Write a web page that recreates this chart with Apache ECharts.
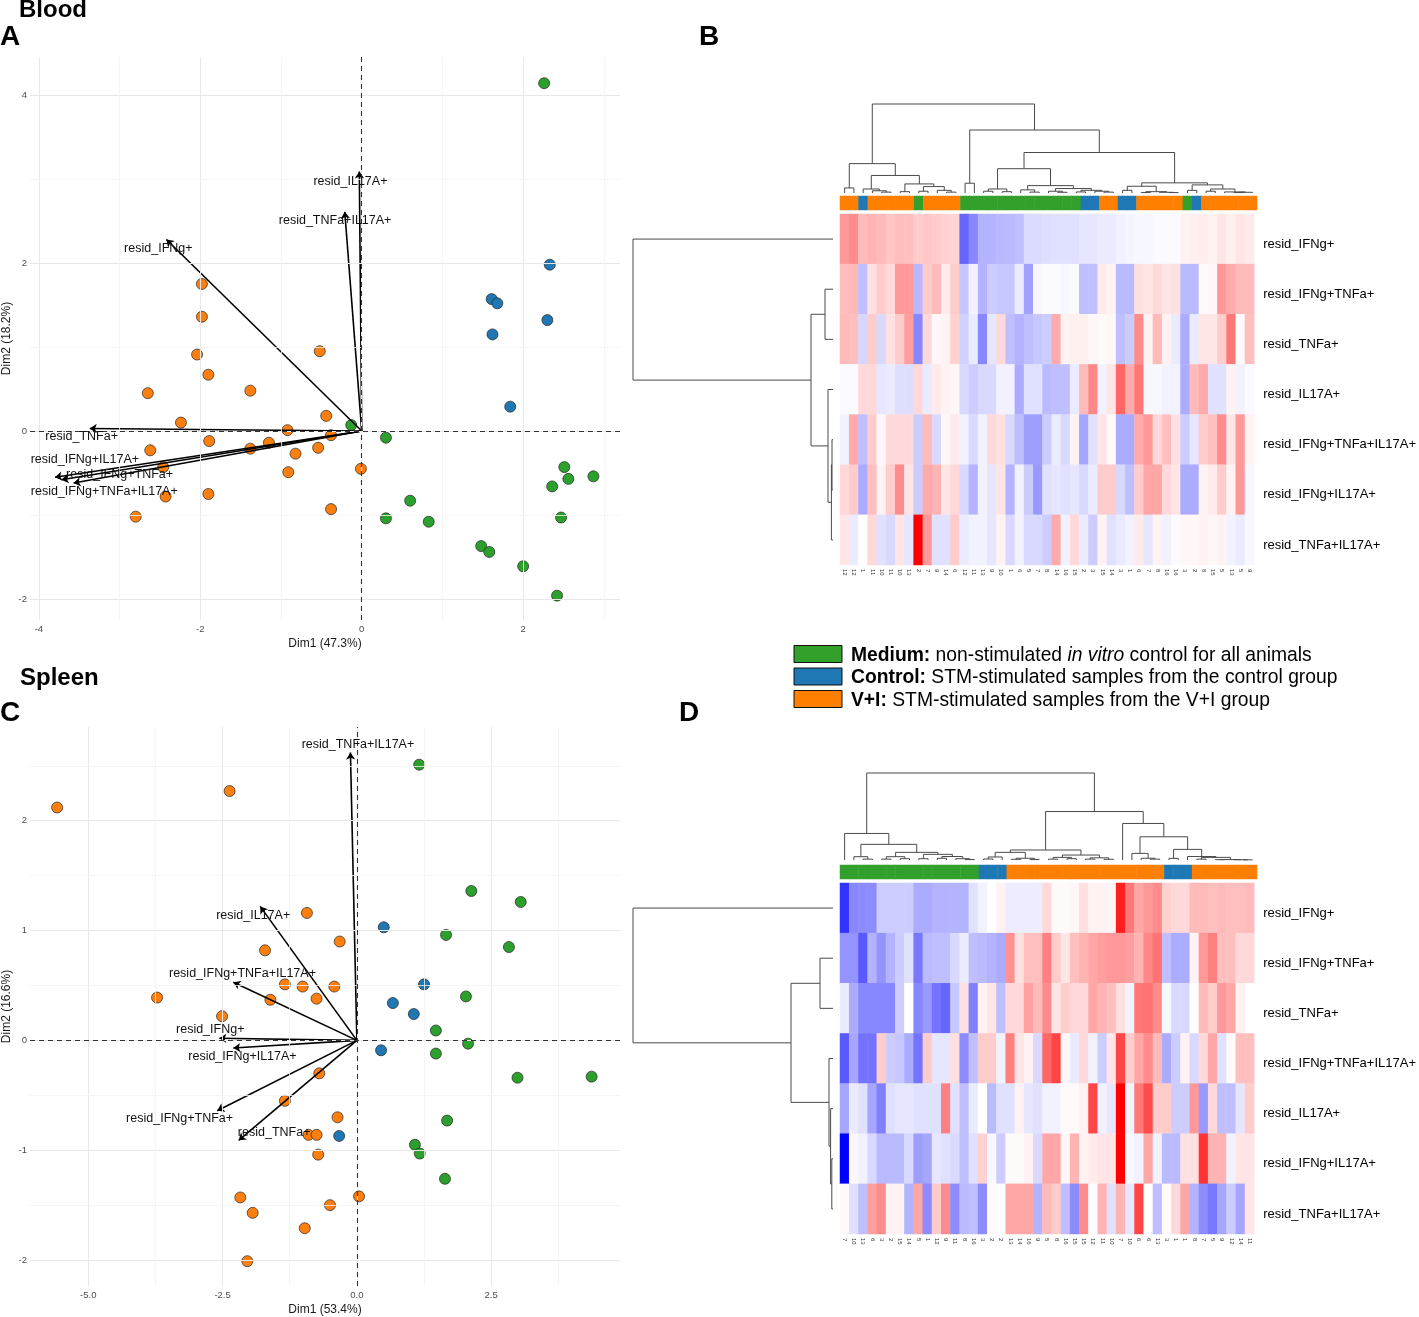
<!DOCTYPE html>
<html><head><meta charset="utf-8">
<script src="https://cdn.jsdelivr.net/npm/echarts@6/dist/echarts.min.js"></script>
<style>html,body{margin:0;padding:0;background:#fff;}#c{width:1419px;height:1317px;}</style>
</head><body><div id="c"></div>
<script>
const FONT = '"Liberation Sans", Arial, Helvetica, sans-serif';
const GROUP_COLORS = {M:'#33a02c', C:'#1f78b4', V:'#ff7f00'};
const POINT_COLORS = {M:'#2ca02c', C:'#1f77b4', V:'#ff7f0e'};
const GROUP_CODE = {M:0, C:1, V:2};

// ---------- Panel A (Blood PCA) ----------
const bloodMedium = [[2.26,4.14],[-0.13,0.07],[0.30,-0.08],[2.51,-0.43],[2.56,-0.57],[2.87,-0.54],[2.36,-0.66],[0.60,-0.83],[0.30,-1.04],[0.83,-1.08],[2.47,-1.03],[1.48,-1.37],[1.58,-1.44],[2.00,-1.61],[2.42,-1.96]];
const bloodControl = [[2.33,1.98],[1.61,1.57],[1.68,1.52],[2.30,1.32],[1.62,1.15],[1.84,0.29]];
const bloodVI = [[-1.98,1.75],[-1.98,1.36],[-2.04,0.91],[-1.90,0.67],[-0.52,0.95],[-2.65,0.45],[-1.38,0.48],[-0.44,0.18],[-2.24,0.10],[-0.92,0.01],[-0.38,-0.05],[-1.89,-0.12],[-1.15,-0.14],[-1.38,-0.21],[-2.62,-0.23],[-0.82,-0.27],[-0.54,-0.20],[-2.46,-0.43],[-0.91,-0.49],[-0.01,-0.45],[-2.43,-0.78],[-1.90,-0.75],[-0.38,-0.93],[-2.80,-1.02]];
const bloodArrowNames = ['resid_IL17A+','resid_TNFa+IL17A+','resid_IFNg+','resid_TNFa+','resid_IFNg+IL17A+','resid_IFNg+TNFa+','resid_IFNg+TNFa+IL17A+'];
const bloodArrowTips = [[-0.03,3.09],[-0.21,2.61],[-2.42,2.28],[-3.37,0.03],[-3.80,-0.55],[-3.57,-0.62],[-3.72,-0.58]];
const bloodLabelPos = [[-0.14,2.97],[-0.33,2.50],[-2.52,2.17],[-3.47,-0.07],[-3.43,-0.34],[-3.00,-0.52],[-3.19,-0.72]];
const bloodXTicks = [-4,-2,0,2], bloodYTicks = [-2,0,2,4];
const bloodXMinor = [-3,-1,1,3], bloodYMinor = [-1,1,3];

// ---------- Panel C (Spleen PCA) ----------
const spleenMedium = [[1.16,2.51],[2.13,1.36],[3.05,1.26],[1.66,0.96],[2.83,0.85],[2.03,0.40],[1.47,0.09],[2.07,-0.03],[1.47,-0.12],[2.99,-0.34],[4.37,-0.33],[1.68,-0.73],[1.08,-0.95],[1.17,-1.03],[1.64,-1.26]];
const spleenControl = [[0.50,1.03],[1.25,0.51],[0.67,0.34],[1.06,0.24],[0.45,-0.09],[-0.33,-0.87]];
const spleenVI = [[-5.58,2.12],[-2.37,2.27],[-0.93,1.16],[-0.32,0.90],[-1.71,0.82],[-3.72,0.39],[-1.34,0.51],[-1.01,0.49],[-0.42,0.49],[-1.61,0.37],[-0.75,0.38],[-2.51,0.22],[-0.70,-0.30],[-1.34,-0.55],[-0.36,-0.70],[-0.90,-0.86],[-0.75,-0.86],[-0.72,-1.04],[-2.17,-1.43],[-1.94,-1.57],[0.04,-1.42],[-0.50,-1.50],[-0.97,-1.71],[-2.04,-2.01]];
const spleenArrowNames = ['resid_TNFa+IL17A+','resid_IL17A+','resid_IFNg+TNFa+IL17A+','resid_IFNg+','resid_IFNg+IL17A+','resid_IFNg+TNFa+','resid_TNFa+'];
const spleenArrowTips = [[-0.12,2.62],[-1.80,1.22],[-2.30,0.53],[-2.56,0.02],[-2.30,-0.07],[-2.60,-0.64],[-2.20,-0.91]];
const spleenLabelPos = [[0.02,2.69],[-1.93,1.14],[-2.13,0.61],[-2.73,0.10],[-2.13,-0.15],[-3.30,-0.71],[-1.54,-0.84]];
const spleenXTicks = [-5,-2.5,0,2.5], spleenYTicks = [-2,-1,0,1,2];
const spleenXMinor = [-3.75,-1.25,1.25,3.75], spleenYMinor = [-1.5,-0.5,0.5,1.5,2.5];

// ---------- Heatmaps ----------
const rowNamesB = ['resid_IFNg+','resid_IFNg+TNFa+','resid_TNFa+','resid_IL17A+','resid_IFNg+TNFa+IL17A+','resid_IFNg+IL17A+','resid_TNFa+IL17A+'];
const rowNamesD = ['resid_IFNg+','resid_IFNg+TNFa+','resid_TNFa+','resid_IFNg+TNFa+IL17A+','resid_IL17A+','resid_IFNg+IL17A+','resid_TNFa+IL17A+'];
const colLabelsB = ['12','12','1','11','10','11','10','13','2','7','9','14','6','12','11','13','9','10','1','6','5','7','8','14','16','15','2','3','15','14','3','1','6','7','8','16','16','3','2','8','15','5','13','5','9'];
const colLabelsD = ['7','10','13','6','3','2','15','14','5','1','12','9','11','8','16','3','2','2','13','14','16','9','5','8','16','15','15','12','11','10','7','10','6','6','13','3','1','1','8','7','5','9','12','14','11'];
const groupsB = ['V','V','C','V','V','V','V','V','M','V','V','V','V','M','M','M','M','M','M','M','M','M','M','M','M','M','C','C','V','V','C','C','V','V','V','V','V','M','C','V','V','V','V','V','V'];
const groupsD = ['M','M','M','M','M','M','M','M','M','M','M','M','M','M','M','C','C','C','V','V','V','V','V','V','V','V','V','V','V','V','V','V','V','V','V','C','C','C','V','V','V','V','V','V','V'];

const heatB = [
 [0.40,0.45,0.27,0.30,0.27,0.23,0.26,0.25,0.20,0.22,0.20,0.18,0.17,-0.60,-0.47,-0.30,-0.30,-0.28,-0.27,-0.25,-0.14,-0.14,-0.13,-0.12,-0.12,-0.12,-0.10,-0.10,-0.08,-0.08,-0.05,-0.04,-0.03,-0.03,-0.02,-0.02,-0.02,0.05,0.06,0.07,0.05,0.10,0.06,0.10,0.08],
 [0.25,0.28,-0.25,0.12,0.20,0.15,0.40,0.40,-0.28,0.20,0.27,0.08,0.20,-0.22,-0.05,-0.30,-0.20,-0.22,-0.22,-0.08,-0.37,-0.03,-0.02,-0.02,-0.03,-0.02,-0.25,-0.25,0.08,0.05,-0.27,-0.27,0.12,0.10,0.15,0.10,0.12,-0.27,-0.27,0.02,0.03,0.40,0.33,0.27,0.27],
 [0.27,0.25,-0.16,0.20,-0.15,0.12,0.20,0.38,-0.47,0.15,0.03,0.05,0.18,-0.18,-0.08,-0.47,-0.10,0.15,-0.25,-0.30,-0.25,-0.22,-0.20,0.33,0.05,0.06,0.06,0.03,0.02,0.03,-0.25,-0.20,0.45,0.05,0.27,0.05,-0.08,-0.33,-0.08,0.10,0.10,0.20,0.53,0.02,0.25],
 [-0.02,-0.02,0.15,0.15,-0.10,-0.08,-0.13,-0.13,0.15,-0.08,0.08,0.05,0.03,-0.15,-0.20,-0.15,-0.15,-0.05,-0.05,-0.33,-0.12,-0.12,-0.27,-0.25,-0.25,-0.08,0.27,0.47,-0.05,0.10,0.60,0.33,0.53,-0.03,-0.03,-0.05,-0.05,-0.33,0.27,0.33,-0.12,-0.12,0.05,-0.05,-0.02],
 [-0.05,0.33,-0.25,0.20,0.03,0.15,0.15,0.15,-0.20,0.27,-0.15,0.03,0.08,-0.05,-0.15,-0.05,0.15,0.12,-0.15,-0.25,-0.38,-0.38,-0.20,-0.08,-0.15,0.05,-0.35,-0.12,0.10,0.02,-0.33,-0.33,0.33,0.40,0.15,0.25,0.12,-0.20,-0.10,0.20,0.25,0.45,0.10,0.40,0.05],
 [0.15,0.20,-0.33,0.25,0.05,0.20,0.45,0.10,-0.20,0.33,0.30,0.10,0.15,-0.15,-0.30,-0.05,-0.10,0.10,-0.30,-0.05,-0.20,-0.40,-0.12,-0.10,-0.12,-0.10,-0.15,-0.08,0.20,0.20,-0.15,-0.25,0.20,0.35,0.35,0.15,0.10,-0.33,-0.33,0.05,0.08,0.20,0.05,0.40,-0.03],
 [0.10,-0.08,0.00,0.15,-0.12,-0.15,0.10,-0.10,1.00,0.40,-0.12,-0.12,0.20,-0.08,-0.05,-0.05,-0.10,0.05,-0.15,-0.05,-0.15,-0.15,-0.20,0.33,-0.05,0.15,-0.08,-0.20,0.05,-0.12,-0.08,-0.05,0.08,-0.10,0.05,-0.05,-0.02,0.03,0.03,0.05,0.03,0.05,-0.05,-0.08,-0.03]
];
const heatD = [
 [-0.80,-0.47,-0.45,-0.45,-0.20,-0.20,-0.20,-0.20,-0.33,-0.33,-0.30,-0.30,-0.30,-0.30,-0.12,-0.05,0.00,0.05,-0.07,-0.07,-0.07,-0.07,0.15,0.02,0.02,0.03,0.12,0.05,0.05,0.04,0.88,0.53,0.35,0.40,0.45,0.18,0.15,0.15,0.27,0.27,0.25,0.27,0.25,0.25,0.27],
 [-0.42,-0.42,-0.65,-0.30,-0.42,-0.30,-0.20,-0.12,-0.53,-0.27,-0.25,-0.25,-0.15,-0.08,-0.25,-0.27,-0.30,-0.33,0.43,0.12,0.25,0.25,0.50,0.20,0.10,0.25,0.30,0.35,0.38,0.40,0.40,0.38,0.30,0.47,0.55,-0.25,-0.33,-0.33,0.05,0.40,0.50,0.25,0.25,0.15,0.15],
 [-0.08,-0.33,-0.47,-0.47,-0.47,-0.47,-0.20,0.00,-0.47,-0.40,-0.55,-0.60,-0.22,0.12,-0.50,0.05,0.10,-0.25,0.15,0.15,0.37,0.27,0.45,0.10,0.20,0.15,0.15,0.35,0.30,0.25,0.12,-0.05,0.53,0.55,0.45,-0.03,-0.15,-0.15,0.00,0.27,0.20,0.40,0.35,0.05,0.00],
 [-0.65,-0.35,-0.55,-0.55,0.20,-0.20,-0.22,-0.33,-0.55,0.20,-0.10,-0.10,0.12,-0.45,-0.25,0.20,0.20,-0.05,0.50,0.10,0.05,-0.15,0.60,0.73,0.03,-0.08,0.15,-0.05,-0.20,0.10,0.73,0.20,0.35,0.45,0.27,-0.33,-0.20,0.05,-0.15,0.15,0.35,-0.12,0.02,0.25,0.25],
 [-0.35,-0.08,-0.12,-0.35,-0.50,-0.12,-0.10,-0.10,-0.12,-0.12,-0.12,0.50,-0.12,-0.25,-0.08,0.00,-0.27,-0.12,-0.12,0.05,-0.10,-0.12,-0.05,-0.05,0.02,0.02,0.05,0.73,-0.05,-0.10,1.00,-0.05,0.53,0.70,0.20,0.20,-0.20,-0.20,0.40,-0.40,0.15,-0.25,-0.25,-0.10,0.20],
 [-1.00,0.03,-0.05,-0.15,-0.27,-0.27,-0.27,-0.15,-0.38,-0.35,-0.10,-0.12,-0.15,-0.25,-0.12,0.18,-0.03,-0.20,0.02,0.02,0.05,-0.15,0.35,0.35,0.03,0.30,0.05,0.08,0.10,0.10,1.00,-0.03,-0.05,0.35,-0.05,-0.27,-0.27,0.12,0.12,0.80,0.30,0.30,-0.05,0.10,0.10],
 [0.02,-0.12,-0.25,0.38,0.45,0.05,0.05,-0.30,0.35,-0.45,0.20,0.45,-0.45,-0.27,-0.25,-0.45,0.02,0.00,0.35,0.35,0.35,-0.30,0.27,0.20,-0.25,-0.45,0.45,0.00,0.30,-0.12,0.30,-0.10,0.73,0.00,-0.25,0.02,0.15,0.35,-0.30,-0.45,-0.53,-0.35,-0.20,-0.35,0.10]
];

// Dendrograms: node = [mergeHeight, left, right]; leaf = position index
const colTreeB = [10,
  [3.3, [0.57,0,1], [1.97, [0.45,2,[0.25,3,[0.1,4,5]]], [1.02, [0.15,6,7], [0.72,[0.2,8,9],[0.3,10,[0.1,11,12]]]]]],
  [7.08, [1.1,13,14],
    [4.55,
      [2.73, [0.45,[0.2,15,16],[0.15,17,18]], [0.83,[0.35,19,[0.1,20,21]],[0.5,[0.2,22,[0.08,23,24]],[0.3,[0.12,25,26],[0.2,27,[0.1,28,29]]]]]],
      [1.14, [0.76,[0.3,30,31],[0.15,[0.05,32,33],[0.08,34,[0.05,35,36]]]], [0.91,[0.3,37,38],[0.45,[0.2,39,40],[0.12,41,[0.08,[0.05,42,43],44]]]]]
    ]
  ]
];
const rowTreeB = [10, 0, [1.1, [0.4,1,2], [0.25,3,[0.08,[0.05,4,5],6]]]];
const colTreeD = [10,
  [3.05, 0, [1.8, [0.38,1,[0.1,2,3]], [0.88, [0.38,[0.1,4,5],[0.15,6,7]], [0.65,[0.15,8,9],[0.4,[0.2,10,11],[0.15,12,[0.05,13,14]]]]]]],
  [5.57,
    [1.15,
      [0.88, [0.35,[0.12,15,16],17], [0.2,[0.08,18,19],[0.05,20,21]]],
      [0.57, [0.3,[0.1,22,23],[0.15,24,25]], [0.25,[0.1,26,27],[0.08,28,29]]]
    ],
    [4.2, 30,
      [2.67,
        [0.76, 31, [0.2,32,[0.1,33,34]]],
        [1.22, [0.19,35,36], [0.4,37,[0.3,[0.1,38,39],[0.05,[0.04,40,41],[0.03,42,[0.02,43,44]]]]]]
      ]
    ]
  ]
];
const rowTreeD = [10, 0, [2.1, [0.65,1,2], [0.2,3,[0.12,4,[0.06,5,6]]]]];

// ---------- helpers ----------
function dendroSegments(tree, horizontal) {
  const segs = [];
  function walk(n) {
    if (typeof n === 'number') return {p: n, h: 0};
    const a = walk(n[1]), b = walk(n[2]), h = n[0];
    segs.push([a.p, a.h, a.p, h], [b.p, b.h, b.p, h], [a.p, h, b.p, h]);
    return {p: (a.p + b.p) / 2, h: h};
  }
  walk(tree);
  return horizontal ? segs.map(s => [s[1], s[0], s[3], s[2]]) : segs;
}
function renderSeg(params, api) {
  const p1 = api.coord([api.value(0), api.value(1)]);
  const p2 = api.coord([api.value(2), api.value(3)]);
  return {type: 'line', shape: {x1: p1[0], y1: p1[1], x2: p2[0], y2: p2[1]}, style: {stroke: '#4a4a4a', lineWidth: 1}};
}
function heatCells(m) {
  const out = [];
  m.forEach((row, r) => row.forEach((v, c) => out.push([c, r, v])));
  return out;
}

const grid = [], xAxis = [], yAxis = [], series = [];
const heatSeries = [], annotSeries = [];

function pcaPanel(cfg) {
  const gi = grid.length;
  grid.push({left: cfg.left, top: cfg.top, width: cfg.width, height: cfg.height, containLabel: false});
  xAxis.push({gridIndex: gi, type: 'value', min: cfg.xmin, max: cfg.xmax,
    name: cfg.xname, nameLocation: 'middle', nameGap: 18,
    nameTextStyle: {fontSize: 12, color: '#1a1a1a', fontFamily: FONT},
    axisLine: {show: false}, splitLine: {show: false},
    axisTick: {show: true, length: 3, customValues: cfg.xticks, lineStyle: {color: '#333'}},
    axisLabel: {customValues: cfg.xticks, fontSize: 9.5, color: '#4d4d4d', fontFamily: FONT, margin: 4, formatter: cfg.xfmt}});
  yAxis.push({gridIndex: gi, type: 'value', min: cfg.ymin, max: cfg.ymax,
    name: cfg.yname, nameLocation: 'middle', nameGap: 17, nameRotate: 90,
    nameTextStyle: {fontSize: 12, color: '#1a1a1a', fontFamily: FONT},
    axisLine: {show: false}, splitLine: {show: false},
    axisTick: {show: true, length: 3, customValues: cfg.yticks, lineStyle: {color: '#333'}},
    axisLabel: {customValues: cfg.yticks, fontSize: 9.5, color: '#4d4d4d', fontFamily: FONT, margin: 3}});
  const major = cfg.xticks.map(v => ({xAxis: v})).concat(cfg.yticks.map(v => ({yAxis: v})));
  const minor = cfg.xminor.map(v => ({xAxis: v})).concat(cfg.yminor.map(v => ({yAxis: v})));
  series.push({type: 'line', xAxisIndex: gi, yAxisIndex: gi, data: [], z: 1, silent: true,
    markLine: {silent: true, symbol: 'none', animation: false, label: {show: false},
      lineStyle: {color: '#e8e8e8', type: 'solid', width: 1}, data: major}});
  series.push({type: 'line', xAxisIndex: gi, yAxisIndex: gi, data: [], z: 1, silent: true,
    markLine: {silent: true, symbol: 'none', animation: false, label: {show: false},
      lineStyle: {color: '#f2f2f2', type: 'solid', width: 0.8}, data: minor}});
  series.push({type: 'line', xAxisIndex: gi, yAxisIndex: gi, data: [], z: 2, silent: true,
    markLine: {silent: true, symbol: 'none', animation: false, label: {show: false},
      lineStyle: {color: '#333', type: [5, 4], width: 1.1}, data: [{xAxis: 0}, {yAxis: 0}]}});
  [['M', cfg.medium], ['C', cfg.control], ['V', cfg.vi]].forEach(([g, pts]) => {
    series.push({type: 'scatter', xAxisIndex: gi, yAxisIndex: gi, data: pts, symbolSize: 11, z: 3,
      itemStyle: {color: POINT_COLORS[g], borderColor: '#222', borderWidth: 0.7, opacity: 1}});
  });
  series.push({type: 'lines', coordinateSystem: 'cartesian2d', xAxisIndex: gi, yAxisIndex: gi, z: 4,
    symbol: ['none', 'arrow'], symbolSize: [0, 7], silent: true,
    lineStyle: {color: '#000', width: 1.6, opacity: 1},
    data: cfg.tips.map(t => ({coords: [[0, 0], t]}))});
  series.push({type: 'scatter', xAxisIndex: gi, yAxisIndex: gi, z: 5, symbolSize: 0, silent: true,
    itemStyle: {color: 'rgba(0,0,0,0)'},
    label: {show: true, position: 'inside', formatter: p => p.name, fontSize: 12.5, color: '#111', fontFamily: FONT, opacity: 1},
    data: cfg.names.map((n, i) => ({name: n, value: cfg.labelPos[i]}))});
}

function heatPanel(cfg) {
  let gi = grid.length;
  grid.push({left: 840, top: cfg.top, width: 417, height: 351});
  xAxis.push({gridIndex: gi, type: 'category', data: cfg.colLabels.map((l, i) => i),
    axisLine: {show: false}, axisTick: {show: false}, splitLine: {show: false},
    axisLabel: {interval: 0, rotate: -90, fontSize: 6, color: '#333', fontFamily: FONT, margin: 4,
      formatter: (v, i) => cfg.colLabels[i]}});
  yAxis.push({gridIndex: gi, type: 'category', data: cfg.rowNames, inverse: true, position: 'right',
    axisLine: {show: false}, axisTick: {show: false}, splitLine: {show: false},
    axisLabel: {margin: 9, fontSize: 13, color: '#000', fontFamily: FONT, verticalAlign: 'top', lineHeight: 10}});
  heatSeries.push(series.length);
  series.push({type: 'heatmap', xAxisIndex: gi, yAxisIndex: gi, data: heatCells(cfg.values),
    progressive: 0, emphasis: {disabled: true}, silent: true});
  gi = grid.length;
  grid.push({left: 840, top: cfg.top - 18, width: 417, height: 14});
  xAxis.push({gridIndex: gi, type: 'category', data: cfg.colLabels.map((l, i) => i), show: false});
  yAxis.push({gridIndex: gi, type: 'category', data: ['group'], show: false});
  annotSeries.push(series.length);
  series.push({type: 'heatmap', xAxisIndex: gi, yAxisIndex: gi, progressive: 0, emphasis: {disabled: true}, silent: true,
    data: cfg.groups.map((g, i) => [i, 0, GROUP_CODE[g]])});
  gi = grid.length;
  grid.push({left: 840, top: cfg.dendTop, width: 417, height: cfg.dendHeight});
  xAxis.push({gridIndex: gi, type: 'value', min: -0.5, max: cfg.colLabels.length - 0.5, show: false});
  yAxis.push({gridIndex: gi, type: 'value', min: 0, max: 10, show: false});
  series.push({type: 'custom', xAxisIndex: gi, yAxisIndex: gi, renderItem: renderSeg, silent: true,
    data: dendroSegments(cfg.colTree, false)});
  gi = grid.length;
  grid.push({left: 633, top: cfg.top, width: 200, height: 351});
  xAxis.push({gridIndex: gi, type: 'value', min: 0, max: 10, inverse: true, show: false});
  yAxis.push({gridIndex: gi, type: 'value', min: -0.5, max: cfg.rowNames.length - 0.5, inverse: true, show: false});
  series.push({type: 'custom', xAxisIndex: gi, yAxisIndex: gi, renderItem: renderSeg, silent: true,
    data: dendroSegments(cfg.rowTree, true)});
}

pcaPanel({left: 29, top: 57, width: 591, height: 563, xmin: -4.11, xmax: 3.2, ymin: -2.25, ymax: 4.452,
  xticks: bloodXTicks, yticks: bloodYTicks, xminor: bloodXMinor, yminor: bloodYMinor,
  xfmt: v => String(v), xname: 'Dim1 (47.3%)', yname: 'Dim2 (18.2%)',
  medium: bloodMedium, control: bloodControl, vi: bloodVI,
  names: bloodArrowNames, tips: bloodArrowTips, labelPos: bloodLabelPos});
pcaPanel({left: 28, top: 727, width: 592, height: 561, xmin: -6.085, xmax: 4.898, ymin: -2.236, ymax: 2.853,
  xticks: spleenXTicks, yticks: spleenYTicks, xminor: spleenXMinor, yminor: spleenYMinor,
  xfmt: v => Number(v).toFixed(1), xname: 'Dim1 (53.4%)', yname: 'Dim2 (16.6%)',
  medium: spleenMedium, control: spleenControl, vi: spleenVI,
  names: spleenArrowNames, tips: spleenArrowTips, labelPos: spleenLabelPos});
heatPanel({top: 214, dendTop: 104, dendHeight: 89, values: heatB, rowNames: rowNamesB, colLabels: colLabelsB,
  groups: groupsB, colTree: colTreeB, rowTree: rowTreeB});
heatPanel({top: 883, dendTop: 773, dendHeight: 87, values: heatD, rowNames: rowNamesD, colLabels: colLabelsD,
  groups: groupsD, colTree: colTreeD, rowTree: rowTreeD});

function titleText(x, y, text, size) {
  return {type: 'text', x: x, y: y, style: {text: text, fontSize: size, fontWeight: 'bold', fontFamily: FONT, fill: '#000', verticalAlign: 'middle', align: 'left'}};
}
const legendItems = [
  ['M', 'Medium:', 'non-stimulated {i|in vitro} control for all animals'],
  ['C', 'Control:', 'STM-stimulated samples from the control group'],
  ['V', 'V+I:', 'STM-stimulated samples from the V+I group']
];
const graphics = [
  titleText(19, 10, 'Blood', 24), titleText(0, 37, 'A', 28), titleText(699, 37, 'B', 28),
  titleText(20, 678, 'Spleen', 24), titleText(0, 713, 'C', 28), titleText(679, 713, 'D', 28)
];
legendItems.forEach((it, i) => {
  const cy = 654 + i * 22.5;
  graphics.push({type: 'rect', shape: {x: 794, y: cy - 8.5, width: 48, height: 17},
    style: {fill: GROUP_COLORS[it[0]], stroke: '#111', lineWidth: 1}});
  graphics.push({type: 'text', x: 851, y: cy + 1.5, style: {
    text: '{b|' + it[1] + '} ' + it[2], fontSize: 19.3, fontFamily: FONT, fill: '#000', verticalAlign: 'middle', align: 'left',
    rich: {b: {fontWeight: 'bold', fontSize: 19.3, fontFamily: FONT, fill: '#000'},
           i: {fontStyle: 'italic', fontSize: 19.3, fontFamily: FONT, fill: '#000'}}}});
});

const chart = echarts.init(document.getElementById('c'), null, {renderer: 'canvas'});
chart.setOption({
  animation: false,
  backgroundColor: '#fff',
  grid: grid, xAxis: xAxis, yAxis: yAxis, series: series,
  visualMap: [
    {type: 'continuous', show: false, min: -1, max: 1, seriesIndex: heatSeries, dimension: 2,
      inRange: {color: ['#0000ff', '#ffffff', '#ff0000']}},
    {type: 'piecewise', show: false, seriesIndex: annotSeries, dimension: 2,
      pieces: [{value: 0, color: GROUP_COLORS.M}, {value: 1, color: GROUP_COLORS.C}, {value: 2, color: GROUP_COLORS.V}]}
  ],
  graphic: graphics
});
</script></body></html>
